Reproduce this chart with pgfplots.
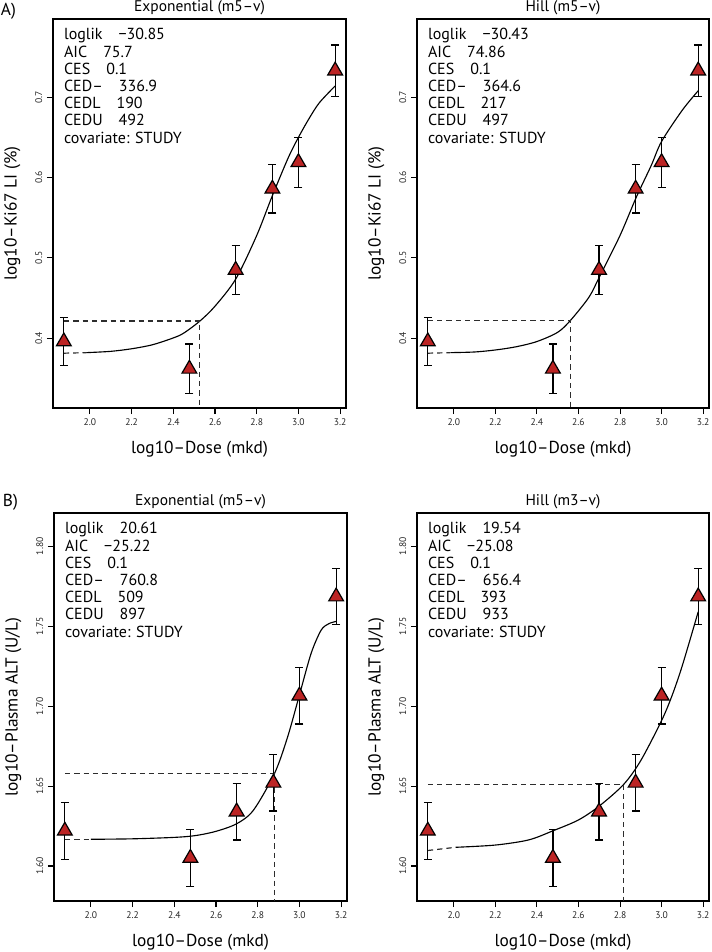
\documentclass[border=0pt]{standalone}
\usepackage{fontspec}
\setmainfont{PT Sans}
\usepackage{pgfplots}
\usepackage{pgfplotstable}
\pgfplotsset{compat=1.18}
\definecolor{tri}{RGB}{188,36,36}
\definecolor{dsh}{RGB}{45,45,45}

\pgfplotstableread{
x y e
1.8751 0.396 0.030
2.4771 0.362 0.031
2.6990 0.485 0.030
2.8751 0.586 0.030
3.0000 0.619 0.031
3.1761 0.733 0.032
}\dataA

\pgfplotstableread{
x y e
1.8751 1.622 0.0177
2.4771 1.605 0.0178
2.6990 1.634 0.0177
2.8751 1.652 0.0176
3.0000 1.7065 0.0177
3.1761 1.7685 0.0175
}\dataB

\pgfplotsset{
  every axis title shift=0pt,
  panel/.style={
    scale only axis, width=219.75pt, height=291.75pt,
    xmin=1.8231, xmax=3.2281,
    xtick={2.0,2.2,2.4,2.6,2.8,3.0,3.2},
    xtick pos=bottom, ytick pos=left,
    tick align=outside,
    major tick length=4.5pt,
    every tick/.style={black, line width=0.8pt},
    axis line style={line width=0.9pt},
    /pgf/number format/assume math mode=true,
    x tick label style={font=\fontsize{7.2}{8}\selectfont, color=black!85,
      /pgf/number format/.cd, fixed, fixed zerofill, precision=1},
    y tick label style={font=\fontsize{7.2}{8}\selectfont, color=black!85, rotate=90, anchor=south},
    title style={font=\fontsize{11.6}{13}\selectfont, at={(axis description cs:0.5,1)}, anchor=center, yshift=8.25pt},
    xlabel style={font=\fontsize{13}{15}\selectfont, at={(axis description cs:0.5,-0.105)}, anchor=center},
    ylabel style={font=\fontsize{13}{15}\selectfont, at={(axis description cs:-0.139,0.5)}, anchor=center},
    xlabel={log10\textendash Dose (mkd)},
    clip=false,
  },
  tris/.style={only marks, mark=triangle*, mark size=6.4pt,
    mark options={fill=tri, draw=black, line width=0.9pt}},
  ebars/.style={draw=none, mark=none,
    error bars/.cd, y dir=both, y explicit,
    error bar style={draw=black, solid, line width=0.9pt},
    error mark options={draw=black, solid, rotate=90, mark size=3pt, line width=0.9pt}},
  fit/.style={black, line width=0.85pt, smooth, mark=none},
  dfit/.style={dsh, line width=0.9pt, mark=none, dash pattern=on 4pt off 3pt},
}

\newcommand{\info}[5]{%
  \node[anchor=north west, align=left, inner sep=0pt,
        font=\fontsize{12}{12.9}\selectfont]
    at (axis description cs:0.037,0.976)
    {loglik\hspace{1em}#1\\AIC\hspace{1em}#2\\CES\hspace{1em}0.1\\CED\textendash\hspace{1em}#3\\CEDL\hspace{1em}#4\\CEDU\hspace{1em}#5\\covariate: STUDY};}

\begin{document}
\begin{tikzpicture}
\node[anchor=west, font=\fontsize{13}{15}\selectfont, inner sep=0pt] at (0.5pt,-8.5pt) {A)};
\node[anchor=west, font=\fontsize{13}{15}\selectfont, inner sep=0pt] at (2pt,-376.5pt) {B)};

% ---------- A left ----------
\begin{axis}[panel, at={(39.75pt,-14.25pt)}, anchor=north west,
  ymin=0.3133, ymax=0.7973, ytick={0.4,0.5,0.6,0.7},
  y tick label style={/pgf/number format/.cd, fixed, precision=1},
  title={Exponential (m5\textendash v)},
  ylabel={log10\textendash Ki67 LI (\%)}]
\addplot[dfit] coordinates {(1.8751,0.3815) (1.985,0.3822)};
\addplot[fit] coordinates {(1.985,0.3822) (2.1,0.3838) (2.2,0.387) (2.3,0.392) (2.4,0.4005) (2.45,0.4065) (2.5275,0.4215) (2.6,0.440) (2.7,0.474) (2.8,0.528) (2.872,0.5755) (2.95,0.624) (3.0,0.650) (3.05,0.673) (3.1,0.693) (3.1761,0.714)};
\addplot[dfit] coordinates {(1.8751,0.4215) (2.5275,0.4215) (2.5275,0.3133)};
\addplot[tris] table[x=x,y=y] {\dataA};
\addplot[ebars] table[x=x,y=y,y error=e] {\dataA};
\info{\textminus30.85}{75.7}{336.9}{190}{492}
\end{axis}

% ---------- A right ----------
\begin{axis}[panel, at={(312.75pt,-14.25pt)}, anchor=north west, width=219pt,
  ymin=0.3133, ymax=0.7973, ytick={0.4,0.5,0.6,0.7},
  y tick label style={/pgf/number format/.cd, fixed, precision=1},
  title={Hill (m5\textendash v)},
  ylabel={log10\textendash Ki67 LI (\%)}]
\addplot[dfit] coordinates {(1.8751,0.3815) (1.985,0.3822)};
\addplot[fit] coordinates {(1.985,0.3822) (2.1,0.383) (2.2,0.3855) (2.3,0.3895) (2.4,0.396) (2.5,0.4075) (2.5618,0.4224) (2.65,0.451) (2.7,0.476) (2.8,0.528) (2.879,0.576) (2.95,0.615) (3.0,0.645) (3.1,0.684) (3.1761,0.708)};
\addplot[dfit] coordinates {(1.8751,0.4224) (2.5618,0.4224) (2.5618,0.3133)};
\addplot[tris] table[x=x,y=y] {\dataA};
\addplot[ebars] table[x=x,y=y,y error=e] {\dataA};
\info{\textminus30.43}{74.86}{364.6}{217}{497}
\end{axis}

% ---------- B left ----------
\begin{axis}[panel, at={(40.5pt,-384.75pt)}, anchor=north west, height=291pt,
  ymin=1.5781, ymax=1.8208, ytick={1.60,1.65,1.70,1.75,1.80},
  y tick label style={/pgf/number format/.cd, fixed, fixed zerofill, precision=2},
  title={Exponential (m5\textendash v)},
  ylabel={log10\textendash Plasma ALT (U/L)}]
\addplot[dfit] coordinates {(1.8751,1.6167) (2.0,1.6167)};
\addplot[fit] coordinates {(2.0,1.6167) (2.2,1.6170) (2.4,1.6179) (2.5,1.619) (2.6,1.6217) (2.7,1.6265) (2.78,1.635) (2.8813,1.6581) (2.944,1.681) (3.0,1.707) (3.056,1.733) (3.104,1.7475) (3.14,1.7515) (3.1761,1.753)};
\addplot[dfit] coordinates {(1.8751,1.6581) (2.8813,1.6581) (2.8813,1.5781)};
\addplot[tris] table[x=x,y=y] {\dataB};
\addplot[ebars] table[x=x,y=y,y error=e] {\dataB};
\info{20.61}{\textminus25.22}{760.8}{509}{897}
\end{axis}

% ---------- B right ----------
\begin{axis}[panel, at={(312.75pt,-384.75pt)}, anchor=north west, width=219pt, height=291pt,
  ymin=1.5781, ymax=1.8208, ytick={1.60,1.65,1.70,1.75,1.80},
  y tick label style={/pgf/number format/.cd, fixed, fixed zerofill, precision=2},
  title={Hill (m3\textendash v)},
  ylabel={log10\textendash Plasma ALT (U/L)}]
\addplot[dfit] coordinates {(1.8751,1.6097) (2.01,1.6117)};
\addplot[fit] coordinates {(2.01,1.6117) (2.2,1.6131) (2.36,1.6163) (2.477,1.622) (2.6,1.6288) (2.7,1.6375) (2.8172,1.651) (2.9,1.666) (3.0,1.691) (3.05,1.7065) (3.1,1.7255) (3.1761,1.759)};
\addplot[dfit] coordinates {(1.8751,1.651) (2.8172,1.651) (2.8172,1.5781)};
\addplot[tris] table[x=x,y=y] {\dataB};
\addplot[ebars] table[x=x,y=y,y error=e] {\dataB};
\info{19.54}{\textminus25.08}{656.4}{393}{933}
\end{axis}
\pgfresetboundingbox
\useasboundingbox (0,0) rectangle (533.25pt,-714pt);
\end{tikzpicture}
\end{document}
